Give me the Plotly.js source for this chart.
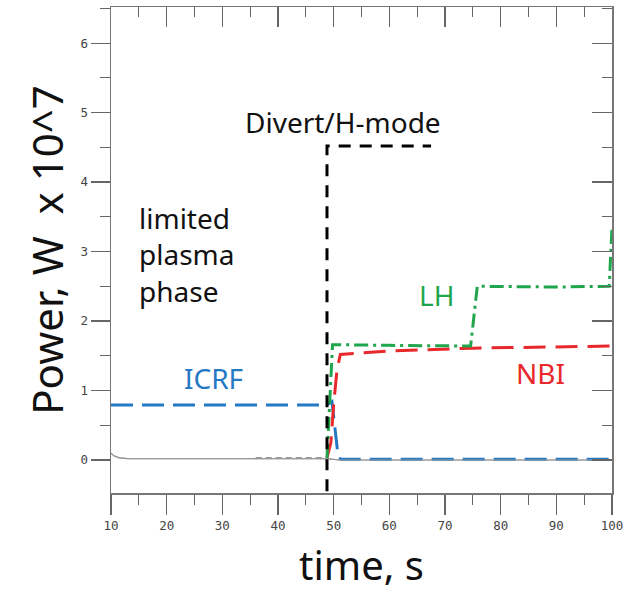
<!DOCTYPE html>
<html><head><meta charset="utf-8">
<script src="https://cdn.plot.ly/plotly-3.0.1.min.js"></script>
<style>html,body{margin:0;padding:0;background:#fff}#chart{width:639px;height:592px}</style>
</head><body><div id="chart"></div>
<script>
// time, s  /  power, W x 10^7
const tDivert = [48.8, 48.8, 67.5];
const pDivert = [-0.45, 4.52, 4.52];
const tICRF = [10, 48.8, 49.7, 50.8, 51.3, 100];
const pICRF = [0.79, 0.79, 0.84, 0.05, 0.01, 0.01];
const tNBI = [48.8, 49.5, 50.0, 50.6, 51.2, 60, 75, 100];
const pNBI = [0.03, 0.25, 0.8, 1.3, 1.52, 1.57, 1.61, 1.64];
const tLH = [48.8, 49.3, 49.8, 60, 74.6, 75.8, 90, 99.5, 100];
const pLH = [0.03, 0.9, 1.66, 1.65, 1.64, 2.5, 2.49, 2.5, 3.35];
const tBase = [10, 10.5, 11.5, 13, 30, 48.8, 51, 100];
const pBase = [0.1, 0.06, 0.03, 0.02, 0.02, 0.02, 0.0, 0.0];
const tBaseDash = [36, 48.8];
const pBaseDash = [0.03, 0.03];
const labels = ["Divert/H-mode", "limited<br>plasma<br>phase", "ICRF", "LH", "NBI"];
const labelT = [51.7, 14.7, 28.5, 68.4, 87.1];
const labelP = [4.87, 2.96, 1.18, 2.38, 1.25];

const BLUE = '#2479c4', RED = '#e8282b', GREEN = '#1fa54c';
const xRange = [10, 100], yRange = [-0.475, 6.52];

const traces = [
  {x: tBase, y: pBase, mode: 'lines', line: {color: '#9a9a9a', width: 1.2}},
  {x: tBase, y: pBase, xaxis: 'x2', yaxis: 'y2', mode: 'lines', line: {color: '#9a9a9a', width: 1.2}},
  {x: tBaseDash, y: pBaseDash, mode: 'lines', line: {color: '#777', width: 1.5, dash: '6px,4px'}},
  {x: tICRF, y: pICRF, mode: 'lines', line: {color: BLUE, width: 3, dash: '22px,9px'}},
  {x: tNBI, y: pNBI, mode: 'lines', line: {color: RED, width: 3, dash: '22px,10px'}},
  {x: tLH, y: pLH, mode: 'lines', line: {color: GREEN, width: 3, dash: '14px,5px,3px,5px'}},
  {x: tDivert, y: pDivert, mode: 'lines', line: {color: '#000', width: 3, dash: '12px,9px'}}
];

const tickFont = {family: 'DejaVu Sans Mono', size: 12.5, color: '#444'};
const font = 'Noto Sans';
const annColors = ['#111', '#111', BLUE, GREEN, RED];
const annotations = labels.map((txt, i) => ({
  x: labelT[i], y: labelP[i], xref: 'x', yref: 'y', text: txt, showarrow: false,
  xanchor: i === 1 ? 'left' : 'center', align: 'left',
  font: {family: font, size: 28, color: annColors[i]}
}));

const layout = {
  width: 639, height: 592,
  margin: {l: 111, r: 27, t: 7, b: 99},
  paper_bgcolor: '#fff', plot_bgcolor: '#fff',
  showlegend: false,
  xaxis: {
    range: xRange, dtick: 10, tick0: 10, ticks: 'outside', ticklen: 20, tickcolor: '#666', tickwidth: 1.2,
    minor: {dtick: 5, ticks: 'outside', ticklen: 10, tickcolor: '#666', tickwidth: 1.2},
    showline: true, linecolor: '#777', linewidth: 1.5, showgrid: false, zeroline: false,
    tickfont: tickFont,
    title: {text: 'time, s', font: {family: font, size: 40, color: '#111'}, standoff: 20}
  },
  yaxis: {
    range: yRange, dtick: 1, tick0: 0, ticks: 'outside', ticklen: 19, tickcolor: '#666', tickwidth: 1.2,
    minor: {dtick: 0.5, ticks: 'outside', ticklen: 10, tickcolor: '#666', tickwidth: 1.2},
    showline: true, linecolor: '#777', linewidth: 1.5, showgrid: false, zeroline: false,
    tickfont: tickFont,
    title: {text: 'Power, W&nbsp;&nbsp;x 10^7', font: {family: font, size: 42, color: '#111'}, standoff: 4}
  },
  xaxis2: {
    overlaying: 'x', side: 'top', anchor: 'y2', range: xRange, dtick: 10, tick0: 10,
    ticks: 'inside', ticklen: 20, tickcolor: '#666', tickwidth: 1.2,
    minor: {dtick: 5, ticks: 'inside', ticklen: 10, tickcolor: '#666', tickwidth: 1.2},
    showline: true, linecolor: '#777', linewidth: 1.5, showgrid: false, zeroline: false, showticklabels: false
  },
  yaxis2: {
    overlaying: 'y', side: 'right', anchor: 'x2', range: yRange, dtick: 1, tick0: 0,
    ticks: 'inside', ticklen: 20, tickcolor: '#666', tickwidth: 1.2,
    minor: {dtick: 0.5, ticks: 'inside', ticklen: 10, tickcolor: '#666', tickwidth: 1.2},
    showline: true, linecolor: '#777', linewidth: 1.5, showgrid: false, zeroline: false, showticklabels: false
  },
  annotations: annotations
};

Plotly.newPlot('chart', traces, layout, {displayModeBar: false, staticPlot: true});
</script>
</body></html>
